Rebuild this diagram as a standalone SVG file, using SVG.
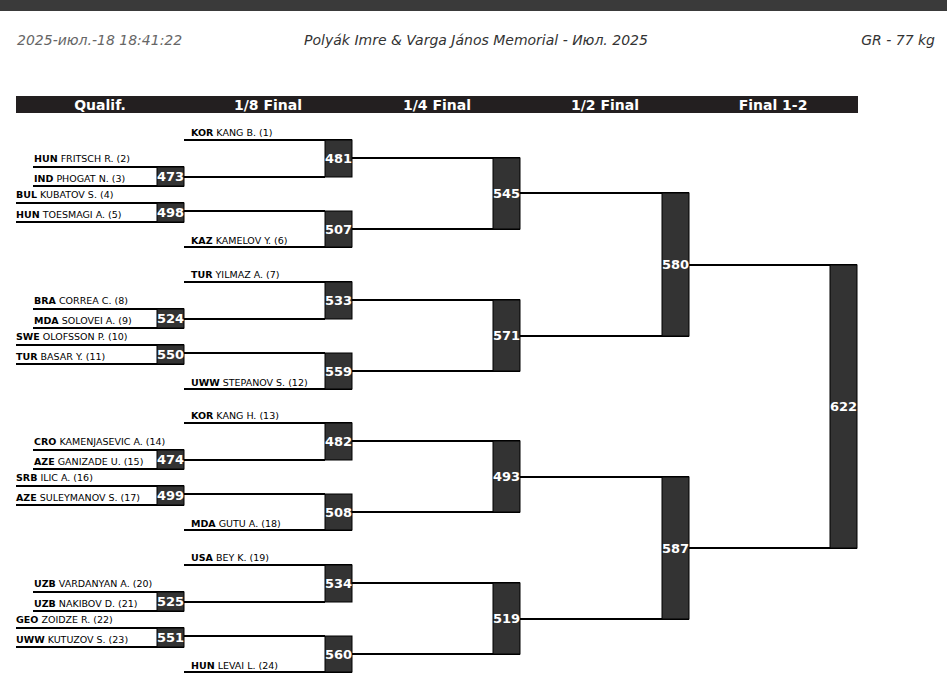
<svg xmlns="http://www.w3.org/2000/svg" width="947" height="679" viewBox="0 0 947 679">
<style>
.l{stroke:#000;stroke-width:2;fill:none}
.b{fill:#333;stroke:#000;stroke-width:1}
.n{font-family:"DejaVu Sans",sans-serif;font-size:13px;font-weight:bold;fill:#fff;text-anchor:middle}
.t{font-family:"DejaVu Sans",sans-serif;font-size:9.5px;fill:#000}
.t tspan{font-weight:bold}
.h{font-family:"DejaVu Sans",sans-serif;font-size:14px;font-weight:bold;fill:#fff;text-anchor:middle}
.i{font-family:"DejaVu Sans",sans-serif;font-size:14px;font-style:italic;fill:#333}
</style>
<defs>
<g id="q">
<text class="t" x="191" y="136"><tspan>KOR</tspan> KANG B. (1)</text>
</g>
</defs>
<rect x="0" y="0" width="947" height="11" fill="#3a3a3a"/>
<text class="i" x="17" y="45" fill="#666" style="fill:#666">2025-июл.-18 18:41:22</text>
<text class="i" x="476" y="45" text-anchor="middle">Polyák Imre &amp; Varga János Memorial - Июл. 2025</text>
<text class="i" x="935" y="45" text-anchor="end">GR - 77 kg</text>
<rect x="16" y="96" width="842" height="17" fill="#231f20"/>
<text class="h" x="100" y="110">Qualif.</text>
<text class="h" x="268" y="110">1/8 Final</text>
<text class="h" x="437" y="110">1/4 Final</text>
<text class="h" x="605" y="110">1/2 Final</text>
<text class="h" x="773" y="110">Final 1-2</text>
<g id="connectors">
<g id="grp1"><path class="l" d="M184 140H352M33 167H184M33 186H184M184 177H325M16 203H184M16 222H184M184 211H325M184 247H352M352 158H520M352 229H520"/></g>
<g transform="translate(0,142)"><path class="l" d="M184 140H352M33 167H184M33 186H184M184 177H325M16 203H184M16 222H184M184 211H325M184 247H352M352 158H520M352 229H520"/></g>
<g transform="translate(0,283)"><path class="l" d="M184 140H352M33 167H184M33 186H184M184 177H325M16 203H184M16 222H184M184 211H325M184 247H352M352 158H520M352 229H520"/></g>
<g transform="translate(0,425)"><path class="l" d="M184 140H352M33 167H184M33 186H184M184 177H325M16 203H184M16 222H184M184 211H325M184 247H352M352 158H520M352 229H520"/></g>
<path class="l" d="M520 193H689M520 336H689M520 477H689M520 619H689M689 265H857M689 548H857"/>
</g>
<g id="nodes">
<g id="blk1">
<text class="t" x="191" y="136"><tspan>KOR</tspan> KANG B. (1)</text>
<text class="t" x="34" y="162"><tspan>HUN</tspan> FRITSCH R. (2)</text>
<text class="t" x="34" y="182"><tspan>IND</tspan> PHOGAT N. (3)</text>
<text class="t" x="16" y="198"><tspan>BUL</tspan> KUBATOV S. (4)</text>
<text class="t" x="16" y="218"><tspan>HUN</tspan> TOESMAGI A. (5)</text>
<text class="t" x="191" y="244"><tspan>KAZ</tspan> KAMELOV Y. (6)</text>
<rect class="b" x="157" y="167" width="27" height="19"/><text class="n" x="170.5" y="181">473</text>
<rect class="b" x="157" y="203" width="27" height="19"/><text class="n" x="170.5" y="217">498</text>
<rect class="b" x="325" y="140" width="27" height="37"/><text class="n" x="338.5" y="163">481</text>
<rect class="b" x="325" y="211" width="27" height="36"/><text class="n" x="338.5" y="234">507</text>
<rect class="b" x="493" y="158" width="27" height="71"/><text class="n" x="506.5" y="198">545</text>
</g>
<g id="blk2" transform="translate(0,142)">
<text class="t" x="191" y="136"><tspan>TUR</tspan> YILMAZ A. (7)</text>
<text class="t" x="34" y="162"><tspan>BRA</tspan> CORREA C. (8)</text>
<text class="t" x="34" y="182"><tspan>MDA</tspan> SOLOVEI A. (9)</text>
<text class="t" x="16" y="198"><tspan>SWE</tspan> OLOFSSON P. (10)</text>
<text class="t" x="16" y="218"><tspan>TUR</tspan> BASAR Y. (11)</text>
<text class="t" x="191" y="244"><tspan>UWW</tspan> STEPANOV S. (12)</text>
<rect class="b" x="157" y="167" width="27" height="19"/><text class="n" x="170.5" y="181">524</text>
<rect class="b" x="157" y="203" width="27" height="19"/><text class="n" x="170.5" y="217">550</text>
<rect class="b" x="325" y="140" width="27" height="37"/><text class="n" x="338.5" y="163">533</text>
<rect class="b" x="325" y="211" width="27" height="36"/><text class="n" x="338.5" y="234">559</text>
<rect class="b" x="493" y="158" width="27" height="71"/><text class="n" x="506.5" y="198">571</text>
</g>
<g id="blk3" transform="translate(0,283)">
<text class="t" x="191" y="136"><tspan>KOR</tspan> KANG H. (13)</text>
<text class="t" x="34" y="162"><tspan>CRO</tspan> KAMENJASEVIC A. (14)</text>
<text class="t" x="34" y="182"><tspan>AZE</tspan> GANIZADE U. (15)</text>
<text class="t" x="16" y="198"><tspan>SRB</tspan> ILIC A. (16)</text>
<text class="t" x="16" y="218"><tspan>AZE</tspan> SULEYMANOV S. (17)</text>
<text class="t" x="191" y="244"><tspan>MDA</tspan> GUTU A. (18)</text>
<rect class="b" x="157" y="167" width="27" height="19"/><text class="n" x="170.5" y="181">474</text>
<rect class="b" x="157" y="203" width="27" height="19"/><text class="n" x="170.5" y="217">499</text>
<rect class="b" x="325" y="140" width="27" height="37"/><text class="n" x="338.5" y="163">482</text>
<rect class="b" x="325" y="211" width="27" height="36"/><text class="n" x="338.5" y="234">508</text>
<rect class="b" x="493" y="158" width="27" height="71"/><text class="n" x="506.5" y="198">493</text>
</g>
<g id="blk4" transform="translate(0,425)">
<text class="t" x="191" y="136"><tspan>USA</tspan> BEY K. (19)</text>
<text class="t" x="34" y="162"><tspan>UZB</tspan> VARDANYAN A. (20)</text>
<text class="t" x="34" y="182"><tspan>UZB</tspan> NAKIBOV D. (21)</text>
<text class="t" x="16" y="198"><tspan>GEO</tspan> ZOIDZE R. (22)</text>
<text class="t" x="16" y="218"><tspan>UWW</tspan> KUTUZOV S. (23)</text>
<text class="t" x="191" y="244"><tspan>HUN</tspan> LEVAI L. (24)</text>
<rect class="b" x="157" y="167" width="27" height="19"/><text class="n" x="170.5" y="181">525</text>
<rect class="b" x="157" y="203" width="27" height="19"/><text class="n" x="170.5" y="217">551</text>
<rect class="b" x="325" y="140" width="27" height="37"/><text class="n" x="338.5" y="163">534</text>
<rect class="b" x="325" y="211" width="27" height="36"/><text class="n" x="338.5" y="234">560</text>
<rect class="b" x="493" y="158" width="27" height="71"/><text class="n" x="506.5" y="198">519</text>
</g>
<g id="n580"><rect class="b" x="662" y="193" width="27" height="143"/><text class="n" x="675.5" y="269">580</text></g>
<g id="n587"><rect class="b" x="662" y="477" width="27" height="142"/><text class="n" x="675.5" y="553">587</text></g>
<g id="n622"><rect class="b" x="830" y="265" width="27" height="283"/><text class="n" x="843.5" y="411">622</text></g>
</g>
</svg>
